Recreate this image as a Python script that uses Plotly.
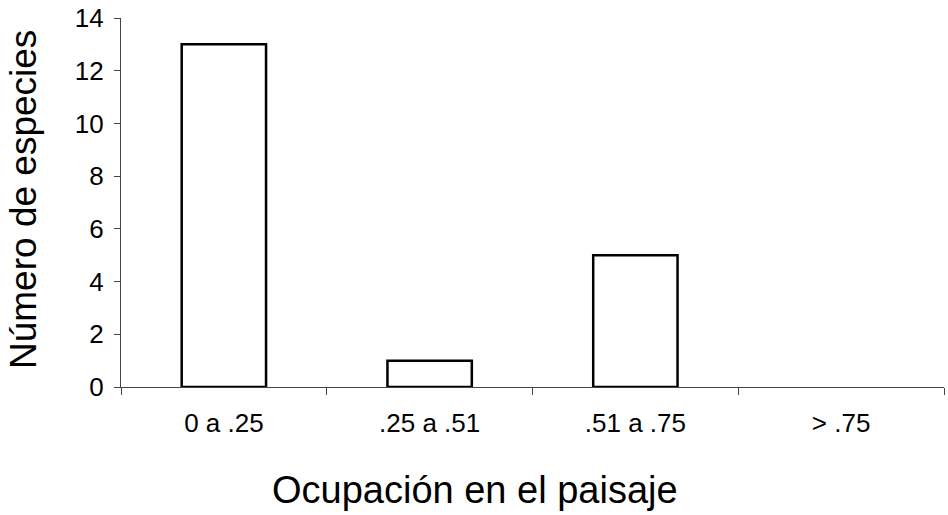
import plotly.graph_objects as go

categories = ["0 a .25", ".25 a .51", ".51 a .75", "> .75"]
species_counts = [13, 1, 5, 0]
y_ticks = [0, 2, 4, 6, 8, 10, 12, 14]

W, H = 948, 515
L, R, T, B = 121, 4, 18, 128
PW, PH = W - L - R, H - T - B

fig = go.Figure()
fig.add_trace(go.Bar(
    x=categories, y=species_counts, width=0.41,
    marker=dict(color="white",
                line=dict(color="black", width=[2.5 if v > 0 else 0 for v in species_counts])),
))

font = "Liberation Sans, Arial, sans-serif"
fig.update_layout(
    width=W, height=H,
    margin=dict(l=L, r=R, t=T, b=B, autoexpand=False),
    plot_bgcolor="white", paper_bgcolor="white",
    showlegend=False,
    font=dict(family=font, color="black"),
    xaxis=dict(
        type="category", range=[-0.5, 3.5], automargin=False,
        showline=True, linecolor="#444", linewidth=1.2,
        ticks="outside", tickson="boundaries", ticklen=7, tickcolor="#444",
        tickfont=dict(size=26, family=font, color="black"),
        ticklabelstandoff=13, ticklabeloverflow="allow",
        showgrid=False, zeroline=False,
    ),
    yaxis=dict(
        range=[0, 14], tickvals=y_ticks, automargin=False,
        showline=True, linecolor="#444", linewidth=1.2,
        ticks="outside", ticklen=6, tickcolor="#444",
        tickfont=dict(size=26, family=font, color="black"),
        ticklabelstandoff=5, ticklabeloverflow="allow",
        showgrid=False, zeroline=False,
    ),
    annotations=[
        dict(text="Ocupación en el paisaje", xref="paper", yref="paper",
             x=(475 - L) / PW, y=-(490 - 387) / PH, xanchor="center", yanchor="middle",
             showarrow=False, font=dict(size=38, family=font, color="black")),
        dict(text="Número de especies", xref="paper", yref="paper",
             x=-(L - 23) / PW, y=(387 - 200) / PH, xanchor="center", yanchor="middle",
             textangle=-90, showarrow=False, font=dict(size=37, family=font, color="black")),
    ],
)
fig.write_html("out.html", config={"displayModeBar": False},
               post_script="document.body.style.margin='0';")
